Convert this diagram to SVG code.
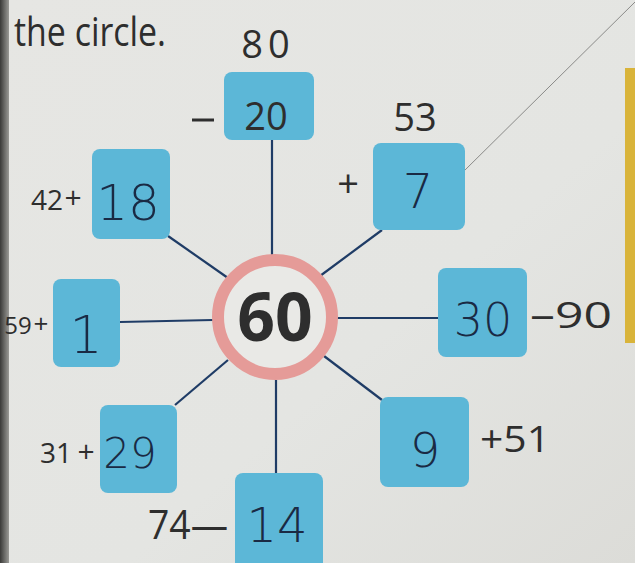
<svg xmlns="http://www.w3.org/2000/svg" width="635" height="563" viewBox="0 0 635 563">
<defs>
<linearGradient id="paper" x1="0" y1="0" x2="1" y2="1">
<stop offset="0" stop-color="#e6e6e3"/>
<stop offset="0.6" stop-color="#e4e5e2"/>
<stop offset="1" stop-color="#dcdcd8"/>
</linearGradient>
<linearGradient id="spine" x1="0" y1="0" x2="1" y2="0">
<stop offset="0" stop-color="#3a3a38"/>
<stop offset="1" stop-color="#9a9a96"/>
</linearGradient>
</defs>
<style>
.box{fill:#5cb7d7}
.conn{stroke:#1f3c66;stroke-width:2.2;fill:none}
.pr{font-family:"Open Sans","DejaVu Sans",sans-serif;fill:#2e2e2e}
.hw{font-family:"DejaVu Sans","Liberation Sans",sans-serif;fill:#1a2a44;font-weight:300}
</style>
<rect width="635" height="563" fill="url(#paper)"/>
<rect x="0" y="0" width="9" height="563" fill="url(#spine)"/>
<rect x="625" y="68" width="10" height="275" fill="#d9b43a"/>
<line x1="463" y1="172" x2="635" y2="2" stroke="#8a8a88" stroke-width="1"/>
<text x="14" y="46" class="pr" font-size="40" fill="#3a3a3a" textLength="152" lengthAdjust="spacingAndGlyphs">the circle.</text>
<g id="connectors">
<line class="conn" x1="272" y1="140" x2="272" y2="256"/>
<line class="conn" x1="382" y1="230" x2="320" y2="276"/>
<line class="conn" x1="168" y1="236" x2="228" y2="278"/>
<line class="conn" x1="120" y1="322" x2="213" y2="320"/>
<line class="conn" x1="175" y1="405" x2="228" y2="360"/>
<line class="conn" x1="276" y1="380" x2="276" y2="474"/>
<line class="conn" x1="337" y1="318" x2="438" y2="318"/>
<line class="conn" x1="324" y1="356" x2="382" y2="400"/>
</g>
<g id="center">
<circle cx="275" cy="317" r="57" fill="#e9e9e6" stroke="#e59b98" stroke-width="12"/>
<text x="275" y="341" text-anchor="middle" class="pr" font-size="66" font-weight="bold" fill="#1c1c1c">60</text>
</g>
<g id="n-top">
<rect class="box" x="224" y="72" width="90" height="68" rx="8"/>
<text x="268" y="58" text-anchor="middle" class="pr" font-size="38" letter-spacing="5">80</text>
<line x1="192" y1="120" x2="214" y2="120" stroke="#2e2e2e" stroke-width="3"/>
<text x="266" y="130" text-anchor="middle" class="pr" font-size="38">20</text>
</g>
<g id="n-topright">
<rect class="box" x="373" y="143" width="92" height="87" rx="8"/>
<text x="415" y="131" text-anchor="middle" class="pr" font-size="38">53</text>
<text x="348" y="197" text-anchor="middle" class="pr" font-size="38">+</text>
<text x="418" y="208" text-anchor="middle" class="hw" font-size="48">7</text>
</g>
<g id="n-topleft">
<rect class="box" x="92" y="149" width="78" height="90" rx="8"/>
<text x="47" y="210" text-anchor="middle" class="pr" font-size="28" fill="#4a4a4a">42</text>
<text x="73" y="208" text-anchor="middle" class="pr" font-size="30" fill="#4a4a4a">+</text>
<text x="128" y="220" text-anchor="middle" class="hw" font-size="50">18</text>
</g>
<g id="n-left">
<rect class="box" x="53" y="279" width="67" height="88" rx="8"/>
<text x="18" y="334" text-anchor="middle" class="pr" font-size="24" fill="#4a4a4a">59</text>
<text x="41" y="333" text-anchor="middle" class="pr" font-size="26" fill="#4a4a4a">+</text>
<text x="86" y="353" text-anchor="middle" class="hw" font-size="52" fill="#5a6470">1</text>
</g>
<g id="n-bottomleft">
<rect class="box" x="100" y="405" width="77" height="88" rx="8"/>
<text x="56" y="463" text-anchor="middle" class="pr" font-size="28" fill="#4a4a4a">31</text>
<text x="86" y="462" text-anchor="middle" class="pr" font-size="30" fill="#4a4a4a">+</text>
<text x="130" y="468" text-anchor="middle" class="hw" font-size="42" fill="#2f3a48">29</text>
</g>
<g id="n-bottom">
<rect class="box" x="235" y="473" width="88" height="100" rx="8"/>
<text x="148" y="539" class="pr" font-size="40" textLength="80" lengthAdjust="spacingAndGlyphs">74—</text>
<text x="277" y="542" text-anchor="middle" class="hw" font-size="48">14</text>
</g>
<g id="n-right">
<rect class="box" x="438" y="268" width="89" height="89" rx="8"/>
<text x="530" y="328" class="pr" font-size="36" textLength="82" lengthAdjust="spacingAndGlyphs">–90</text>
<text x="483" y="336" text-anchor="middle" class="hw" font-size="46">30</text>
</g>
<g id="n-bottomright">
<rect class="box" x="380" y="397" width="89" height="90" rx="8"/>
<text x="480" y="452" class="pr" font-size="37" textLength="70" lengthAdjust="spacingAndGlyphs">+51</text>
<text x="425" y="467" text-anchor="middle" class="hw" font-size="48">9</text>
</g>
</svg>
